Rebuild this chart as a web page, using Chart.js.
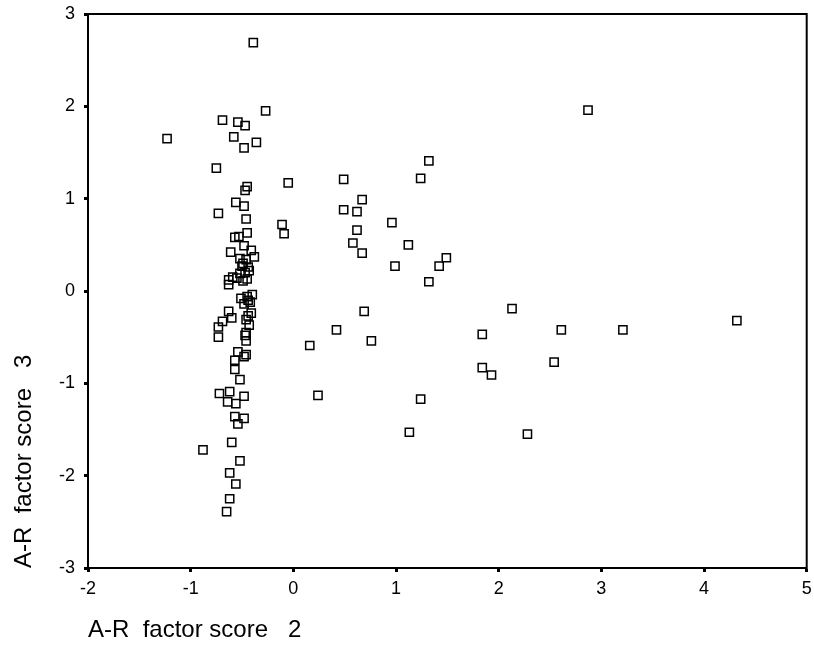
<!DOCTYPE html>
<html>
<head>
<meta charset="utf-8">
<script src="https://cdn.jsdelivr.net/npm/chart.js@4/dist/chart.umd.min.js"></script>
<style>
  html, body { margin: 0; padding: 0; background: #fff; }
  canvas { display: block; }
</style>
</head>
<body>
<canvas id="scoreChart" width="814" height="671"></canvas>
<script>
// A-R factor scores, one entry per case (score 2 on x, score 3 on y)
var score2 = [
  -0.39, -0.27, -0.69, -0.54, -0.47, -1.23, -0.58, -0.36, -0.48, -0.75,
  -0.05, -0.45, -0.47, -0.56, -0.48, -0.73, -0.46, -0.11, -0.09, -0.57,
  -0.53, -0.45, -0.48, -0.41, -0.61, -0.38, -0.52, -0.46, -0.49, -0.44,
  -0.43, -0.52, -0.59, -0.63, -0.45, -0.49, -0.63, -0.55, -0.47, -0.50,
  -0.40, -0.45, -0.51, -0.44, -0.48, -0.42, -0.63, -0.60, -0.41, -0.44,
  -0.46, -0.43, -0.69, -0.73, -0.46, -0.73, -0.47, -0.46, -0.54, -0.46,
  -0.48, -0.57, -0.57, -0.52, -0.72, -0.62, -0.64, -0.56, -0.48, -0.57,
  -0.48, -0.54, -0.60, -0.88, -0.52, -0.62, -0.56, -0.62, -0.65,
  0.49, 1.32, 1.24, 0.67, 0.49, 0.62, 0.96, 0.62, 0.58, 1.12,
  0.67, 1.49, 1.42, 0.99, 1.32, 0.69, 2.13, 0.42, 0.16, 0.76,
  1.84, 1.84, 1.93, 2.54, 0.24, 1.24, 1.13, 2.28, 2.87, 4.32,
  2.61, 3.21
];
var score3 = [
  2.69, 1.95, 1.85, 1.83, 1.79, 1.65, 1.67, 1.61, 1.55, 1.33,
  1.17, 1.13, 1.09, 0.96, 0.92, 0.84, 0.78, 0.72, 0.62, 0.58,
  0.59, 0.63, 0.49, 0.44, 0.42, 0.37, 0.35, 0.34, 0.30, 0.26,
  0.22, 0.19, 0.15, 0.12, 0.13, 0.11, 0.07, 0.14, 0.20, 0.27,
  -0.04, -0.06, -0.08, -0.10, -0.14, -0.12, -0.22, -0.29, -0.24, -0.27,
  -0.31, -0.37, -0.33, -0.39, -0.45, -0.50, -0.48, -0.54, -0.66, -0.69,
  -0.71, -0.75, -0.85, -0.96, -1.11, -1.09, -1.20, -1.22, -1.14, -1.36,
  -1.38, -1.44, -1.64, -1.72, -1.84, -1.97, -2.09, -2.25, -2.39,
  1.21, 1.41, 1.22, 0.99, 0.88, 0.86, 0.74, 0.66, 0.52, 0.50,
  0.41, 0.36, 0.27, 0.27, 0.10, -0.22, -0.19, -0.42, -0.59, -0.54,
  -0.47, -0.83, -0.91, -0.77, -1.13, -1.17, -1.53, -1.55, 1.96, -0.32,
  -0.42, -0.42
];

var xTicks = [-2, -1, 0, 1, 2, 3, 4, 5];
var yTicks = [-3, -2, -1, 0, 1, 2, 3];
var xTitle = 'A-R  factor score   2';
var yTitle = 'A-R  factor score   3';

var points = [];
for (var i = 0; i < score2.length; i++) {
  points.push({ x: score2[i], y: score3[i] });
}

// box around the plot area (axes only draw left and bottom)
var framePlugin = {
  id: 'frame',
  afterDraw: function(chart) {
    var a = chart.chartArea;
    var ctx = chart.ctx;
    ctx.save();
    ctx.strokeStyle = '#000';
    ctx.lineWidth = 2;
    ctx.strokeRect(a.left, a.top, a.right - a.left, a.bottom - a.top);
    ctx.restore();
  }
};

var axisFont = { family: 'Liberation Sans, Arial, sans-serif', size: 18 };
var titleFont = { family: 'Liberation Sans, Arial, sans-serif', size: 24, lineHeight: 1 };

new Chart(document.getElementById('scoreChart'), {
  type: 'scatter',
  data: {
    datasets: [{
      data: points,
      pointStyle: 'rect',
      pointRadius: 5.8,
      pointBorderWidth: 1.5,
      borderColor: '#000',
      backgroundColor: 'rgba(0,0,0,0)'
    }]
  },
  plugins: [framePlugin],
  options: {
    responsive: false,
    animation: false,
    layout: { padding: { top: 14, right: 4, left: 0, bottom: 0 } },
    plugins: { legend: { display: false }, tooltip: { enabled: false } },
    scales: {
      x: {
        type: 'linear',
        min: xTicks[0], max: xTicks[xTicks.length - 1],
        afterBuildTicks: function(s) { s.ticks = xTicks.map(function(v) { return { value: v }; }); },
        // fixed axis height, and no extra room for the end labels
        afterFit: function(s) { s.height = 103; s.paddingLeft = 0; s.paddingRight = 0; },
        border: { color: '#000', width: 2 },
        grid: { drawOnChartArea: false, color: '#000', tickLength: 4, tickWidth: 3 },
        ticks: { color: '#000', font: axisFont, padding: 6, maxRotation: 0 },
        title: { display: true, text: xTitle, align: 'start', color: '#000', font: titleFont, padding: { top: 0, bottom: 29 } }
      },
      y: {
        type: 'linear',
        min: yTicks[0], max: yTicks[yTicks.length - 1],
        afterBuildTicks: function(s) { s.ticks = yTicks.map(function(v) { return { value: v }; }); },
        afterFit: function(s) { s.width = 88; s.paddingTop = 0; s.paddingBottom = 0; },
        border: { color: '#000', width: 2 },
        grid: { drawOnChartArea: false, color: '#000', tickLength: 4, tickWidth: 3 },
        ticks: { color: '#000', font: axisFont, padding: 9 },
        title: { display: true, text: yTitle, align: 'start', color: '#000', font: titleFont, padding: { top: 12, bottom: 0 } }
      }
    }
  }
});
</script>
</body>
</html>
